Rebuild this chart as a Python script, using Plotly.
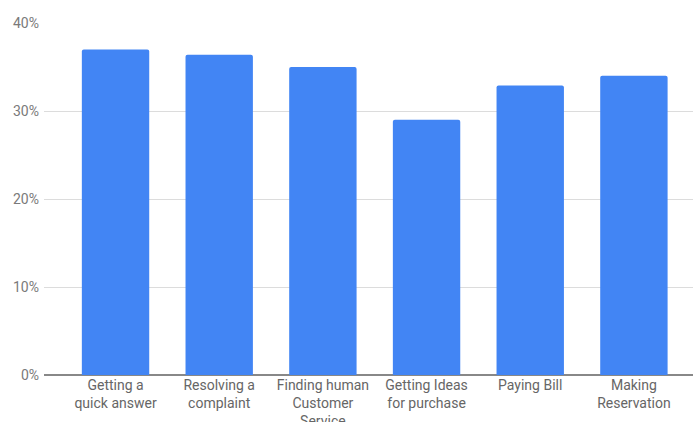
import plotly.graph_objects as go

categories = ["Getting a<br>quick answer", "Resolving a<br>complaint", "Finding human<br>Customer<br>Service",
              "Getting Ideas<br>for purchase", "Paying Bill", "Making<br>Reservation"]
values = [0.37, 0.364, 0.35, 0.29, 0.329, 0.34]
tick_vals = [0, 0.1, 0.2, 0.3, 0.4]
tick_text = ["0%", "10%", "20%", "30%", "40%"]

fig = go.Figure(go.Bar(
    x=list(range(len(categories))), y=values,
    marker=dict(color="#4285F4", line=dict(width=0), cornerradius=2),
    width=0.65,
))
fig.update_layout(
    width=693, height=422,
    margin=dict(l=44, r=0, t=23, b=47),
    plot_bgcolor="white", paper_bgcolor="white",
    font=dict(family="Roboto", size=13, color="#444"),
    showlegend=False,
)
fig.update_xaxes(
    tickvals=list(range(len(categories))), ticktext=categories,
    range=[-0.69, 5.57], showgrid=False, ticks="", showline=False,
    tickfont=dict(size=14, color="#666"), automargin=False,
)
fig.update_yaxes(
    range=[0, 0.4], tickvals=tick_vals, ticktext=tick_text,
    showgrid=True, gridcolor="#dcdcdc", gridwidth=1,
    zeroline=True, zerolinecolor="#888", zerolinewidth=1.5,
    tickfont=dict(size=14, color="#7a7a7a"), ticklabelstandoff=4,
    automargin=False,
)
fig.write_html("out.html")
